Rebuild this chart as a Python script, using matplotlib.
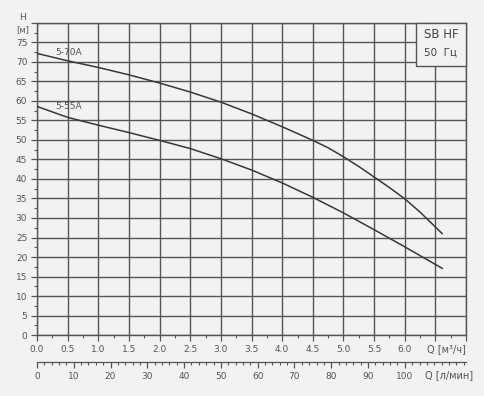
import numpy as np
import matplotlib.pyplot as plt
from matplotlib.patches import Rectangle
from matplotlib.ticker import MultipleLocator, FixedLocator
import matplotlib.transforms as mtransforms

# flow in m3/h and head in m
q_70a = [0.0, 0.5, 1.0, 1.5, 2.0, 2.5, 3.0, 3.5, 4.0, 4.5, 4.75, 5.0, 5.25, 5.5, 5.75, 6.0, 6.25, 6.61]
h_70a = [72.2, 70.3, 68.6, 66.7, 64.6, 62.3, 59.7, 56.7, 53.4, 49.9, 48.0, 45.7, 43.2, 40.5, 37.8, 34.9, 31.5, 26.0]
q_55a = [0.0, 0.5, 1.0, 1.5, 2.0, 2.5, 3.0, 3.5, 4.0, 4.5, 5.0, 5.5, 6.0, 6.61]
h_55a = [58.6, 55.8, 53.8, 51.9, 49.9, 47.8, 45.2, 42.3, 39.0, 35.3, 31.3, 27.0, 22.6, 17.1]

x_labels = ["0.0", "0.5", "1.0", "1.5", "2.0", "2.5", "3.0", "3.5", "4.0", "4.5", "5.0", "5.5", "6.0"]
lpm_labels = [0, 10, 20, 30, 40, 50, 60, 70, 80, 90, 100]

bg = "#f2f2f2"
grid_c = "#555555"
txt_c = "#555555"
curve_c = "#383838"
fs = 6.5

fig = plt.figure(figsize=(4.84, 3.96), dpi=100, facecolor=bg)
ax = fig.add_axes([0.0764, 0.154, 0.8866, 0.788], facecolor=bg)

ax.set_xlim(0, 7)
ax.set_ylim(0, 80)

ax.xaxis.set_minor_locator(MultipleLocator(0.25))
ax.yaxis.set_minor_locator(MultipleLocator(2.5))
ax.set_xticks(np.arange(0, 7.01, 0.5))
ax.set_xticklabels(x_labels + ["", ""])
ax.set_yticks(np.arange(0, 80.1, 5))
ax.set_yticklabels([str(v) for v in range(0, 80, 5)] + [""])

ax.grid(True, which="major", color=grid_c, linewidth=1.0)
ax.tick_params(which="major", direction="out", length=4, width=0.9, color=grid_c,
               labelsize=fs, labelcolor=txt_c, pad=3)
ax.tick_params(which="minor", direction="out", length=2.5, width=0.8, color=grid_c)
for s in ax.spines.values():
    s.set_color(grid_c)
    s.set_linewidth(1.0)

ax.plot(q_70a, h_70a, color=curve_c, linewidth=1.1, zorder=3)
ax.plot(q_55a, h_55a, color=curve_c, linewidth=1.1, zorder=3)
ax.text(0.3, 71.3, "5-70A", fontsize=fs, color=txt_c, va="bottom")
ax.text(0.3, 57.4, "5-55A", fontsize=fs, color=txt_c, va="bottom")

# model box in the top right corner
ax.add_patch(Rectangle((6.18, 68.9), 0.82, 11.1, facecolor=bg, edgecolor=grid_c,
                       linewidth=1.0, zorder=4, clip_on=False))
ax.text(6.59, 77.0, "SB HF", fontsize=8.5, color="#444444", ha="center", va="center", zorder=5)
ax.text(6.59, 72.5, "50  Гц", fontsize=7.5, color="#444444", ha="center", va="center", zorder=5)

# second flow scale in l/min
sec = ax.secondary_xaxis(-0.0865, functions=(lambda q: q * 1000 / 60, lambda l: l * 60 / 1000))
sec.xaxis.set_major_locator(FixedLocator(lpm_labels))
sec.xaxis.set_minor_locator(MultipleLocator(2))
sec.tick_params(which="major", direction="out", length=4, width=0.9, color=grid_c,
                labelsize=fs, labelcolor=txt_c, pad=3)
sec.tick_params(which="minor", direction="out", length=2.5, width=0.8, color=grid_c)
sec.spines["bottom"].set_color(grid_c)
sec.spines["bottom"].set_linewidth(0.9)

trans = mtransforms.blended_transform_factory(ax.transData, ax.transAxes)
ax.text(6.68, -0.046, "Q [м³/ч]", transform=trans, fontsize=7, color=txt_c,
        ha="center", va="center")
ax.text(6.72, -0.128, "Q [л/мин]", transform=trans, fontsize=7, color=txt_c,
        ha="center", va="center")

ax.text(-0.033, 1.018, "H", transform=ax.transAxes, fontsize=fs, color=txt_c,
        ha="center", va="center")
ax.text(-0.033, 0.980, "[м]", transform=ax.transAxes, fontsize=fs - 0.5, color=txt_c,
        ha="center", va="center")

fig.savefig("out.png", dpi=100, facecolor=bg)
